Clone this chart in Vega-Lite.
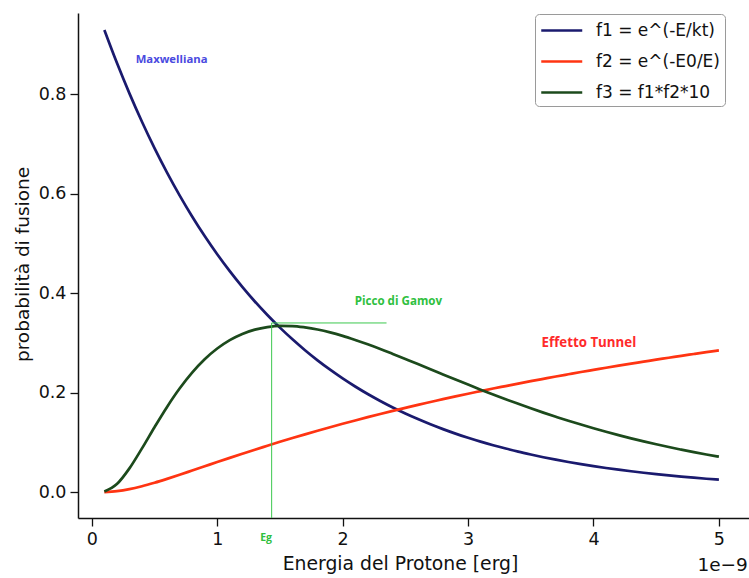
{
  "$schema": "https://vega.github.io/schema/vega-lite/v6.json",
  "autosize": {"type": "none"},
  "padding": {"left": 78, "top": 13, "right": 0, "bottom": 60},
  "width": 671,
  "height": 505,
  "background": "#ffffff",
  "config": {
    "view": {"stroke": null},
    "font": "DejaVu Sans",
    "axis": {"domainColor": "#111111", "domainWidth": 1.5, "tickColor": "#111111", "tickWidth": 1.3, "tickSize": 8, "labelColor": "#111111", "titleColor": "#111111", "grid": false, "labelFont": "DejaVu Sans", "titleFont": "DejaVu Sans", "titleFontWeight": "normal"},
    "legend": {"labelFont": "DejaVu Sans"}
  },
  "datasets": {
    "curves": [
      {"E": 0.1, "f1": 0.9289, "f2": 0.0001, "f3": 0.0013},
      {"E": 0.2, "f1": 0.8628, "f2": 0.0019, "f3": 0.0162},
      {"E": 0.3, "f1": 0.8014, "f2": 0.0059, "f3": 0.0477},
      {"E": 0.4, "f1": 0.7444, "f2": 0.0118, "f3": 0.0879},
      {"E": 0.5, "f1": 0.6914, "f2": 0.0189, "f3": 0.1305},
      {"E": 0.6, "f1": 0.6422, "f2": 0.0267, "f3": 0.1713},
      {"E": 0.7, "f1": 0.5965, "f2": 0.0349, "f3": 0.2082},
      {"E": 0.8, "f1": 0.5541, "f2": 0.0434, "f3": 0.2402},
      {"E": 0.9, "f1": 0.5147, "f2": 0.0519, "f3": 0.2670},
      {"E": 1.0, "f1": 0.4781, "f2": 0.0604, "f3": 0.2886},
      {"E": 1.1, "f1": 0.4441, "f2": 0.0688, "f3": 0.3055},
      {"E": 1.2, "f1": 0.4125, "f2": 0.0771, "f3": 0.3180},
      {"E": 1.3, "f1": 0.3831, "f2": 0.0853, "f3": 0.3266},
      {"E": 1.4, "f1": 0.3559, "f2": 0.0932, "f3": 0.3318},
      {"E": 1.5, "f1": 0.3306, "f2": 0.1011, "f3": 0.3342},
      {"E": 1.6, "f1": 0.3071, "f2": 0.1087, "f3": 0.3338},
      {"E": 1.7, "f1": 0.2852, "f2": 0.1161, "f3": 0.3311},
      {"E": 1.8, "f1": 0.2649, "f2": 0.1234, "f3": 0.3269},
      {"E": 1.9, "f1": 0.2461, "f2": 0.1305, "f3": 0.3212},
      {"E": 2.0, "f1": 0.2286, "f2": 0.1374, "f3": 0.3141},
      {"E": 2.1, "f1": 0.2123, "f2": 0.1441, "f3": 0.3059},
      {"E": 2.2, "f1": 0.1972, "f2": 0.1507, "f3": 0.2972},
      {"E": 2.3, "f1": 0.1832, "f2": 0.1571, "f3": 0.2878},
      {"E": 2.4, "f1": 0.1701, "f2": 0.1633, "f3": 0.2778},
      {"E": 2.5, "f1": 0.1580, "f2": 0.1694, "f3": 0.2677},
      {"E": 2.6, "f1": 0.1468, "f2": 0.1754, "f3": 0.2575},
      {"E": 2.7, "f1": 0.1363, "f2": 0.1811, "f3": 0.2468},
      {"E": 2.8, "f1": 0.1266, "f2": 0.1868, "f3": 0.2365},
      {"E": 2.9, "f1": 0.1176, "f2": 0.1924, "f3": 0.2263},
      {"E": 3.0, "f1": 0.1093, "f2": 0.1978, "f3": 0.2162},
      {"E": 3.1, "f1": 0.1015, "f2": 0.2030, "f3": 0.2060},
      {"E": 3.2, "f1": 0.0943, "f2": 0.2082, "f3": 0.1963},
      {"E": 3.3, "f1": 0.0876, "f2": 0.2132, "f3": 0.1867},
      {"E": 3.4, "f1": 0.0813, "f2": 0.2182, "f3": 0.1775},
      {"E": 3.5, "f1": 0.0756, "f2": 0.2230, "f3": 0.1685},
      {"E": 3.6, "f1": 0.0702, "f2": 0.2277, "f3": 0.1598},
      {"E": 3.7, "f1": 0.0652, "f2": 0.2324, "f3": 0.1515},
      {"E": 3.8, "f1": 0.0606, "f2": 0.2369, "f3": 0.1434},
      {"E": 3.9, "f1": 0.0562, "f2": 0.2414, "f3": 0.1358},
      {"E": 4.0, "f1": 0.0522, "f2": 0.2457, "f3": 0.1284},
      {"E": 4.1, "f1": 0.0485, "f2": 0.2500, "f3": 0.1213},
      {"E": 4.2, "f1": 0.0451, "f2": 0.2542, "f3": 0.1146},
      {"E": 4.3, "f1": 0.0419, "f2": 0.2583, "f3": 0.1081},
      {"E": 4.4, "f1": 0.0389, "f2": 0.2623, "f3": 0.1020},
      {"E": 4.5, "f1": 0.0361, "f2": 0.2663, "f3": 0.0962},
      {"E": 4.6, "f1": 0.0336, "f2": 0.2701, "f3": 0.0906},
      {"E": 4.7, "f1": 0.0312, "f2": 0.2740, "f3": 0.0854},
      {"E": 4.8, "f1": 0.0290, "f2": 0.2777, "f3": 0.0804},
      {"E": 4.9, "f1": 0.0269, "f2": 0.2814, "f3": 0.0757},
      {"E": 5.0, "f1": 0.0250, "f2": 0.2850, "f3": 0.0712}
    ],
    "guides": [
      {"E": 1.434, "v": -0.052, "E2": 1.434, "v2": 0.34},
      {"E": 1.434, "v": 0.34, "E2": 2.35, "v2": 0.34}
    ],
    "maxw": [{"E": 0.35, "v": 0.868, "label": "Maxwelliana"}],
    "picco": [{"E": 2.096, "v": 0.382, "label": "Picco di Gamov"}],
    "tunnel": [{"E": 3.586, "v": 0.2995, "label": "Effetto Tunnel"}],
    "eg": [{"E": 1.39, "v": -0.092, "label": "Eg"}],
    "offset": [{"E": 5.03, "v": -0.147, "label": "1e−9"}]
  },
  "layer": [
    {
      "data": {"name": "curves"},
      "transform": [{"fold": ["f1", "f2", "f3"], "as": ["serie", "valore"]}],
      "mark": {"type": "line", "strokeWidth": 2.7, "interpolate": "monotone"},
      "encoding": {
        "x": {"field": "E", "type": "quantitative", "scale": {"domain": [-0.11, 5.24], "nice": false, "zero": false},
              "axis": {"values": [0, 1, 2, 3, 4, 5], "format": "d", "labelFontSize": 17.5, "labelPadding": 4, "title": "Energia del Protone [erg]", "titleFontSize": 18.8, "titleX": 322, "titleY": 36, "titleAlign": "center", "titleBaseline": "top", "titleAnchor": null}},
        "y": {"field": "valore", "type": "quantitative", "scale": {"domain": [-0.052, 0.963], "nice": false, "zero": false},
              "axis": {"values": [0, 0.2, 0.4, 0.6, 0.8], "format": ".1f", "labelFontSize": 17.5, "labelPadding": 4, "title": "probabilità di fusione", "titleFontSize": 18.5, "titleX": -56, "titleY": 251, "titleAngle": -90, "titleAlign": "center", "titleBaseline": "middle", "titleAnchor": null}},
        "color": {"field": "serie", "type": "nominal",
                  "scale": {"domain": ["f1", "f2", "f3"], "range": ["#1a1a6e", "#ff3412", "#1c4a1c"]},
                  "legend": {"title": null, "orient": "none", "legendX": 457, "legendY": 1, "symbolType": "M-1,0H3", "symbolSize": 420, "symbolStrokeWidth": 2.5, "labelFontSize": 17, "labelColor": "#111111", "rowPadding": 11, "padding": 5, "fillColor": "#ffffff", "strokeColor": "#9a9a9a", "cornerRadius": 4, "labelOffset": 33,
                             "labelExpr": "datum.label == 'f1' ? 'f1 = e^(-E/kt)' : datum.label == 'f2' ? 'f2 = e^(-E0/E)' : 'f3 = f1*f2*10'"}}
      }
    },
    {
      "data": {"name": "guides"},
      "mark": {"type": "rule", "color": "#3cc84e", "strokeWidth": 1},
      "encoding": {
        "x": {"field": "E", "type": "quantitative"},
        "x2": {"field": "E2"},
        "y": {"field": "v", "type": "quantitative"},
        "y2": {"field": "v2"}
      }
    },
    {
      "data": {"name": "maxw"},
      "mark": {"type": "text", "color": "#4a4ae0", "font": "Open Sans", "fontWeight": "bold", "fontSize": 11.3, "align": "left", "baseline": "middle"},
      "encoding": {"x": {"field": "E", "type": "quantitative"}, "y": {"field": "v", "type": "quantitative"}, "text": {"field": "label"}}
    },
    {
      "data": {"name": "picco"},
      "mark": {"type": "text", "color": "#2fc040", "font": "Open Sans", "fontWeight": "bold", "fontSize": 11.6, "align": "left", "baseline": "middle"},
      "encoding": {"x": {"field": "E", "type": "quantitative"}, "y": {"field": "v", "type": "quantitative"}, "text": {"field": "label"}}
    },
    {
      "data": {"name": "tunnel"},
      "mark": {"type": "text", "color": "#ff2a2a", "font": "Open Sans", "fontWeight": "bold", "fontSize": 13.3, "align": "left", "baseline": "middle"},
      "encoding": {"x": {"field": "E", "type": "quantitative"}, "y": {"field": "v", "type": "quantitative"}, "text": {"field": "label"}}
    },
    {
      "data": {"name": "eg"},
      "mark": {"type": "text", "color": "#2fc040", "font": "Open Sans", "fontWeight": "bold", "fontSize": 10.5, "align": "center", "baseline": "middle"},
      "encoding": {"x": {"field": "E", "type": "quantitative"}, "y": {"field": "v", "type": "quantitative"}, "text": {"field": "label"}}
    },
    {
      "data": {"name": "offset"},
      "mark": {"type": "text", "color": "#111111", "font": "DejaVu Sans", "fontSize": 18.5, "align": "center", "baseline": "middle"},
      "encoding": {"x": {"field": "E", "type": "quantitative"}, "y": {"field": "v", "type": "quantitative"}, "text": {"field": "label"}}
    }
  ]
}
